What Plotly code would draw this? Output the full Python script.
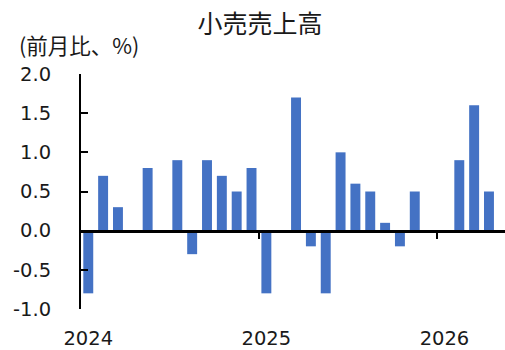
import plotly.graph_objects as go

months = ["2024-01", "2024-02", "2024-03", "2024-04", "2024-05", "2024-06",
          "2024-07", "2024-08", "2024-09", "2024-10", "2024-11", "2024-12",
          "2025-01", "2025-02", "2025-03", "2025-04", "2025-05", "2025-06",
          "2025-07", "2025-08", "2025-09", "2025-10", "2025-11", "2025-12",
          "2026-01", "2026-02", "2026-03", "2026-04"]
values = [-0.8, 0.7, 0.3, 0.0, 0.8, 0.0,
          0.9, -0.3, 0.9, 0.7, 0.5, 0.8,
          -0.8, 0.0, 1.7, -0.2, -0.8, 1.0,
          0.6, 0.5, 0.1, -0.2, 0.5, 0.0,
          0.0, 0.9, 1.6, 0.5]
year_labels = ["2024", "2025", "2026"]
y_tick_vals = [2.0, 1.5, 1.0, 0.5, 0.0, -0.5, -1.0]
y_tick_text = ["2.0", "1.5", "1.0", "0.5", "0.0", "-0.5", "-1.0"]
title_text = "小売売上高"
unit_text = "(前月比、%)"

idx = list(range(len(months)))
year_pos = [i for i, m in enumerate(months) if m.endswith("-01")]
boundary_pos = [p - 0.5 for p in year_pos if p > 0]

num_font = "DejaVu Sans"
cjk_font = "Noto Sans CJK JP"

fig = go.Figure()
fig.add_trace(go.Bar(x=idx, y=values, width=0.67, marker=dict(color="#4472C4", line=dict(width=0)),
                     showlegend=False, hoverinfo="skip"))
fig.add_trace(go.Scatter(x=[idx[0]], y=[0], xaxis="x2", mode="none", showlegend=False, hoverinfo="skip"))

xr = [-0.49, 28.08]
fig.update_layout(
    width=505, height=350,
    margin=dict(l=81, r=0, t=74, b=39),
    paper_bgcolor="white", plot_bgcolor="white",
    title=dict(text=title_text, x=260 / 505, xanchor="center", xref="container",
               y=1 - 24 / 350, yref="container", yanchor="middle",
               font=dict(family=cjk_font, size=25, color="#1a1a1a")),
    xaxis=dict(range=xr, anchor="free", position=1 / 3, showline=True, linecolor="black", linewidth=2.5,
               ticks="outside", ticklen=7, tickwidth=2, tickcolor="black",
               tickvals=boundary_pos, showticklabels=False, showgrid=False, zeroline=False),
    xaxis2=dict(range=xr, matches="x", overlaying="x", anchor="y", side="bottom", showline=False,
                ticks="", tickvals=year_pos, ticktext=year_labels, showgrid=False, zeroline=False,
                ticklabelstandoff=15,
                tickfont=dict(family=num_font, size=19.5, color="#1a1a1a")),
    yaxis=dict(range=[-1, 2], tickvals=y_tick_vals, ticktext=y_tick_text, showline=True, linecolor="black",
               linewidth=2, ticks="inside", ticklen=7, tickwidth=2, tickcolor="black",
               showgrid=False, zeroline=False, ticklabelstandoff=24,
               tickfont=dict(family=num_font, size=19.5, color="#1a1a1a")),
    annotations=[dict(text=unit_text, xref="paper", yref="paper", x=(17 - 81) / 424, xanchor="left",
                      y=1 + (74.3 - 45) / 236.4, yanchor="middle", showarrow=False,
                      font=dict(family=cjk_font, size=21.5, color="#1a1a1a"))],
)
fig.write_html("out.html")
